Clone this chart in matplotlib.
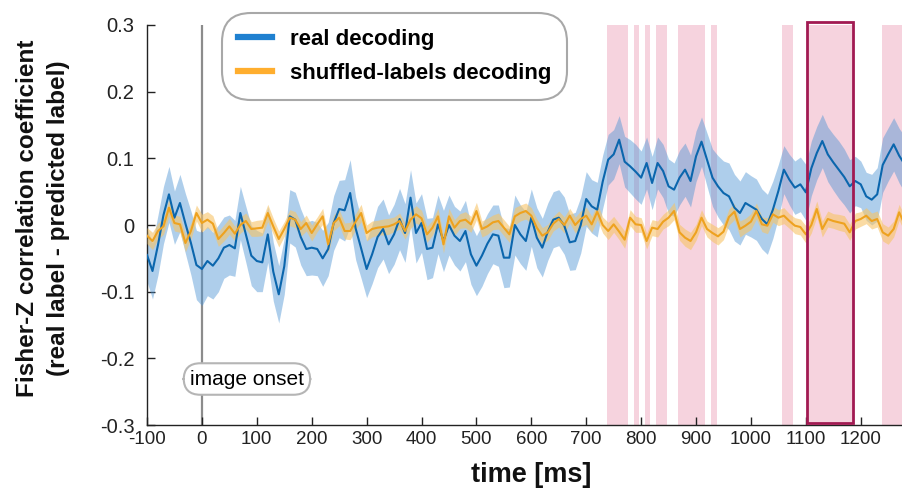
import numpy as np
import matplotlib
matplotlib.use("Agg")
import matplotlib.pyplot as plt
from matplotlib.lines import Line2D
from matplotlib.patches import Rectangle

# --- data (10 ms bins)
time_ms = np.arange(-100, 1290, 10)

real_mean = [
    -0.045, -0.069, -0.030, 0.015, 0.046, 0.011, 0.033, 0.002, -0.027, -0.060,
    -0.066, -0.054, -0.061, -0.050, -0.034, -0.030, -0.035, 0.018, -0.014, -0.046,
    -0.054, -0.056, -0.014, -0.070, -0.104, -0.062, 0.013, 0.008, -0.018, -0.036,
    -0.034, -0.036, -0.050, -0.036, 0.003, 0.024,
    0.022, 0.048, -0.005, -0.035, -0.066, -0.044, -0.018, -0.006, -0.029, -0.014,
    0.009, -0.012, 0.041, -0.012, 0.003, -0.036, -0.034, 0.001, -0.024, 0.000,
    -0.016, -0.024, -0.009, -0.044, -0.061, -0.046, -0.028, -0.014, -0.016, -0.049,
    -0.049, 0.000, -0.014,
    -0.024, 0.011, -0.019, -0.034, -0.010, 0.008, 0.011, -0.001, -0.026, -0.024,
    0.000, 0.039, 0.028, 0.023, 0.065, 0.098, 0.106, 0.128, 0.095, 0.088,
    0.080, 0.071, 0.093, 0.063, 0.093, 0.081, 0.058, 0.053, 0.071, 0.083,
    0.066, 0.103, 0.125, 0.098,
    0.071, 0.058, 0.048, 0.043, 0.026, 0.018, 0.033, 0.028, 0.023, 0.009,
    0.001, 0.023, 0.051, 0.083, 0.068, 0.056, 0.061, 0.049, 0.085, 0.108,
    0.126, 0.106, 0.094, 0.083, 0.072, 0.058, 0.066, 0.061, 0.043, 0.038,
    0.046, 0.090, 0.106, 0.121, 0.104, 0.091,
]
real_sem = [
    0.040, 0.042, 0.045, 0.043, 0.042, 0.040, 0.043, 0.045, 0.048, 0.052,
    0.055, 0.052, 0.050, 0.050, 0.046, 0.045, 0.042, 0.040, 0.042, 0.045,
    0.046, 0.044, 0.042, 0.044, 0.043, 0.042, 0.040, 0.041, 0.042, 0.040,
    0.041, 0.040, 0.042, 0.040, 0.041, 0.043,
    0.046, 0.050, 0.047, 0.045, 0.043, 0.044, 0.046, 0.045, 0.044, 0.045,
    0.046, 0.044, 0.042, 0.045, 0.044, 0.046, 0.045, 0.044, 0.046, 0.045,
    0.044, 0.045, 0.046, 0.045, 0.045, 0.046, 0.045, 0.044, 0.046, 0.045,
    0.044, 0.045, 0.044,
    0.044, 0.043, 0.045, 0.044, 0.043, 0.042, 0.042, 0.043, 0.042, 0.043,
    0.042, 0.041, 0.040, 0.041, 0.040, 0.038, 0.037, 0.036, 0.038, 0.040,
    0.041, 0.040, 0.039, 0.040, 0.039, 0.040, 0.041, 0.040, 0.041, 0.040,
    0.039, 0.038, 0.037, 0.040,
    0.043, 0.046, 0.048, 0.050, 0.050, 0.048, 0.047, 0.046, 0.046, 0.045,
    0.045, 0.043, 0.040, 0.036, 0.038, 0.040, 0.041, 0.042, 0.041, 0.040,
    0.040, 0.041, 0.042, 0.043, 0.042, 0.040, 0.037, 0.035, 0.036, 0.038,
    0.040, 0.041, 0.040, 0.040, 0.041, 0.042,
]
shuf_mean = [
    -0.016, -0.024, -0.009, -0.002, 0.026, 0.003, 0.001, -0.027, -0.009, 0.018,
    0.003, 0.008, 0.002, -0.021, -0.012, -0.002, -0.013, 0.000, 0.006, -0.006,
    -0.005, -0.004, 0.018, -0.002, -0.021, -0.006, 0.011, 0.008, -0.006, 0.003,
    -0.012, 0.001, 0.013, -0.029, 0.003, 0.011,
    -0.009, -0.009, 0.005, 0.018, -0.012, -0.006, -0.004, -0.003, -0.002, 0.001,
    0.006, -0.009, 0.008, 0.016, 0.010, -0.014, -0.004, 0.013, -0.029, 0.013,
    -0.004, 0.006, 0.008, 0.001, 0.021, -0.006, -0.002, 0.004, 0.006, -0.004,
    -0.014, 0.013, 0.018,
    0.021, 0.014, -0.004, -0.016, -0.011, 0.002, 0.009, 0.000, 0.014, 0.000,
    0.009, 0.014, 0.001, 0.020, 0.000, -0.009, 0.001, -0.010, -0.022, 0.011,
    0.001, 0.000, -0.024, -0.004, -0.006, 0.005, 0.011, 0.021, -0.011, -0.019,
    -0.024, -0.011, 0.011, -0.006,
    -0.012, -0.017, -0.010, 0.012, 0.020, -0.006, -0.001, 0.005, 0.021, 0.001,
    -0.001, 0.016, 0.011, 0.014, 0.006, -0.001, -0.003, -0.014, 0.000, 0.024,
    -0.006, 0.009, 0.006, 0.004, 0.002, -0.011, 0.006, 0.009, 0.014, 0.006,
    0.009, -0.011, -0.016, -0.006, 0.019, 0.001,
]
shuf_sem = [
    0.012, 0.013, 0.012, 0.012, 0.013, 0.012, 0.012, 0.013, 0.012, 0.012,
    0.013, 0.012, 0.012, 0.011, 0.012, 0.012, 0.011, 0.012, 0.012, 0.011,
    0.012, 0.012, 0.013, 0.012, 0.012, 0.011, 0.012, 0.012, 0.011, 0.012,
    0.012, 0.011, 0.012, 0.013, 0.012, 0.012,
    0.012, 0.013, 0.012, 0.013, 0.012, 0.012, 0.011, 0.012, 0.012, 0.011,
    0.012, 0.012, 0.013, 0.013, 0.012, 0.012, 0.011, 0.012, 0.013, 0.012,
    0.012, 0.011, 0.012, 0.012, 0.013, 0.012, 0.012, 0.011, 0.012, 0.012,
    0.012, 0.013, 0.012,
    0.012, 0.012, 0.013, 0.012, 0.012, 0.011, 0.012, 0.012, 0.011, 0.012,
    0.012, 0.013, 0.012, 0.012, 0.012, 0.013, 0.012, 0.012, 0.013, 0.012,
    0.012, 0.011, 0.012, 0.012, 0.012, 0.011, 0.012, 0.013, 0.012, 0.013,
    0.013, 0.012, 0.012, 0.012,
    0.013, 0.013, 0.012, 0.012, 0.012, 0.012, 0.011, 0.012, 0.012, 0.011,
    0.012, 0.012, 0.012, 0.012, 0.011, 0.012, 0.012, 0.013, 0.012, 0.012,
    0.012, 0.012, 0.011, 0.012, 0.012, 0.012, 0.012, 0.011, 0.012, 0.012,
    0.012, 0.013, 0.013, 0.012, 0.012, 0.012,
]

# significant clusters (ms) and the highlighted window
sig_windows = [(737, 776), (787, 796), (807, 816), (827, 847), (867, 916),
               (927, 938), (1056, 1076), (1102, 1186), (1239, 1290)]
box_window = (1102, 1186)

x_ticks = [-100, 0, 100, 200, 300, 400, 500, 600, 700, 800, 900, 1000, 1100, 1200]
x_tick_labels = ["-100", "0", "100", "200", "300", "400", "500", "600", "700",
                 "800", "900", "1000", "1100", "1200"]
y_ticks = [-0.3, -0.2, -0.1, 0, 0.1, 0.2, 0.3]
y_tick_labels = ["-0.3", "-0.2", "-0.1", "0", "0.1", "0.2", "0.3"]

BLUE, BLUE_BAND = "#0b66ad", "#4d94d4"
ORANGE, ORANGE_BAND = "#eea21f", "#f7c467"
PINK = "#f6d3de"
SANS = ["Liberation Sans", "DejaVu Sans"]


def main():
    plt.rcParams["font.family"] = SANS
    assert len(time_ms) == len(real_mean) == len(real_sem) == len(shuf_mean) == len(shuf_sem)
    t = time_ms
    rm, rs = np.array(real_mean), np.array(real_sem)
    sm, ss = np.array(shuf_mean), np.array(shuf_sem)

    fig = plt.figure(figsize=(9.03, 4.95), dpi=100)
    ax = fig.add_axes([0.1628, 0.1414, 0.8372, 0.8081])

    for a, b in sig_windows:
        ax.axvspan(a, b, color=PINK, lw=0, zorder=0)

    ax.axvline(0, color="#8c8c8c", lw=1.6, zorder=1)

    ax.fill_between(t, rm - rs, rm + rs, color=BLUE_BAND, alpha=0.45, lw=0, zorder=2)
    ax.fill_between(t, sm - ss, sm + ss, color=ORANGE_BAND, alpha=0.6, lw=0, zorder=3)
    ax.plot(t, rm, color=BLUE, lw=1.5, zorder=4)
    ax.plot(t, sm, color=ORANGE, lw=1.5, zorder=5)

    ax.add_patch(Rectangle((box_window[0], -0.297), box_window[1] - box_window[0], 0.6015,
                           fill=False, ec="#a11a52", lw=2.0, zorder=6, clip_on=False))

    ax.text(82, -0.231, "image onset", fontsize=15, ha="center", va="center", zorder=7,
            bbox=dict(boxstyle="round,pad=0.3,rounding_size=0.8", fc="white",
                      ec="#b5b5b5", lw=1.5))

    ax.set_xlim(-100, 1277)
    ax.set_ylim(-0.3, 0.3)
    ax.set_xticks(x_ticks, x_tick_labels, fontsize=13.5)
    ax.set_yticks(y_ticks, y_tick_labels, fontsize=14.5)
    ax.tick_params(axis="both", direction="in", length=6, width=1.0, colors="#222222")
    ax.tick_params(axis="x", pad=4)
    ax.tick_params(axis="y", pad=9)
    for s in ("top", "right"):
        ax.spines[s].set_visible(False)
    for s in ("left", "bottom"):
        ax.spines[s].set_color("#222222")
        ax.spines[s].set_linewidth(1.0)

    handles = [Line2D([], [], color="#1f80d0", lw=4.5),
               Line2D([], [], color="#ffae2e", lw=4.5)]
    leg = ax.legend(handles, ["real decoding", "shuffled-labels decoding"],
                    loc="upper left", bbox_to_anchor=(0.088, 1.0525),
                    prop=dict(weight="bold", size=16), handlelength=1.5,
                    handletextpad=0.8, borderpad=0.62, labelspacing=0.6,
                    frameon=True, fancybox=True, framealpha=1.0)
    fr = leg.get_frame()
    fr.set_edgecolor("#a8a8a8")
    fr.set_linewidth(1.5)
    fr.set_boxstyle("round,pad=0.1,rounding_size=1.3")
    leg.set_zorder(10)

    fig.text(43 / 903, 1 - 218 / 495,
             "Fisher-Z correlation coefficient\n(real label - predicted label)",
             rotation=90, ha="center", va="center", fontsize=17.5, weight="bold",
             linespacing=1.45, multialignment="center", color="#111111")
    fig.text(531 / 903, 1 - 475 / 495, "time [ms]", ha="center", va="center",
             fontsize=19.5, weight="bold", color="#111111")

    fig.savefig("out.png", dpi=100)


if __name__ == "__main__":
    main()
